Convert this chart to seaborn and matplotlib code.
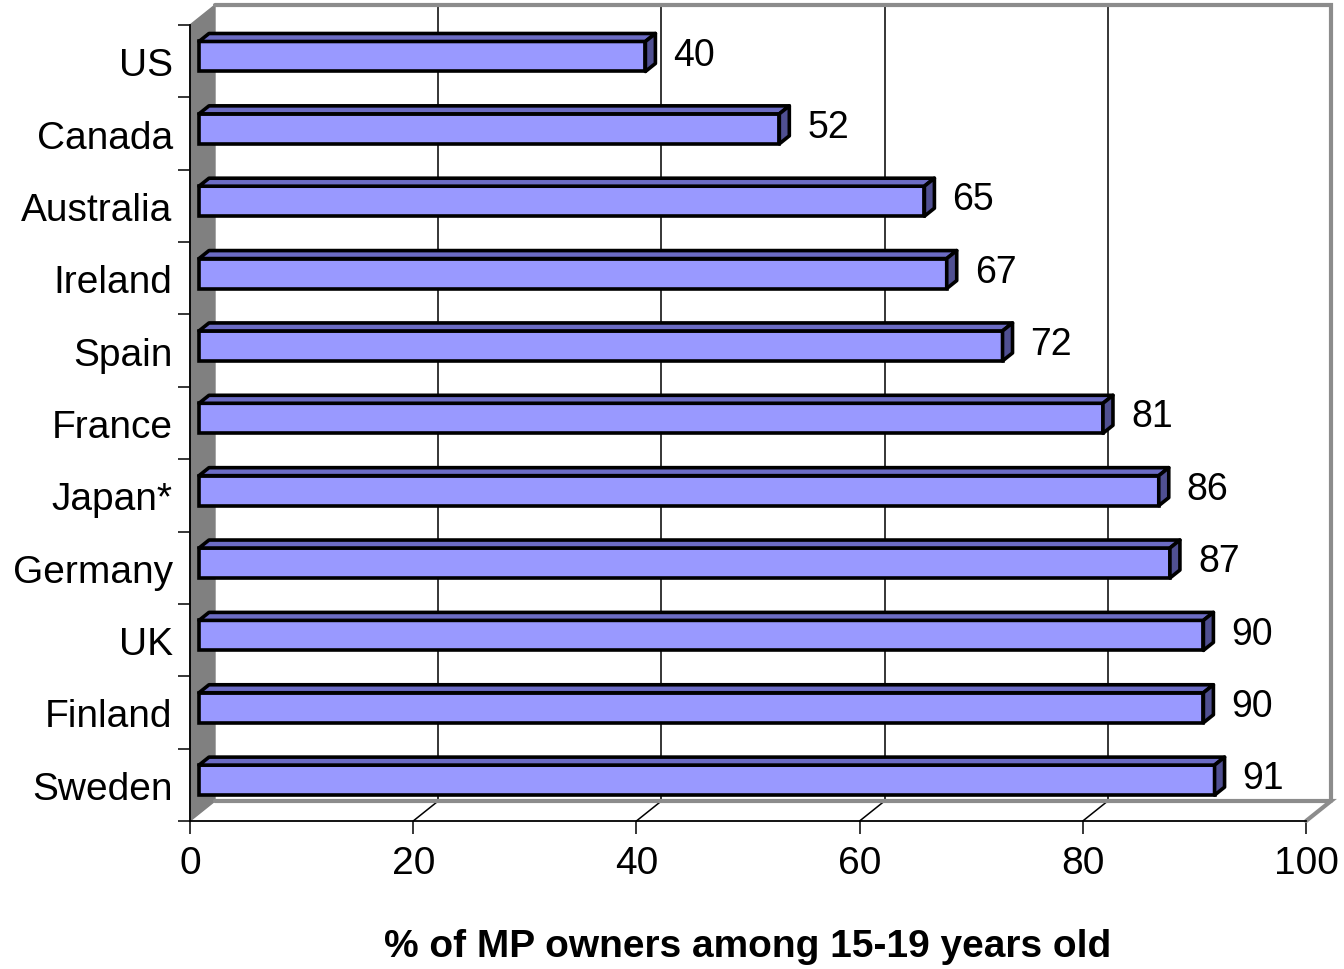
import matplotlib
matplotlib.use("Agg")
import matplotlib.pyplot as plt
import matplotlib.transforms as mtransforms
from matplotlib.patches import Polygon, Rectangle
from matplotlib.ticker import FixedLocator
import numpy as np
import pandas as pd
import seaborn as sns

# Share of mobile-phone owners among 15-19 year olds, by country
countries = ["US", "Canada", "Australia", "Ireland", "Spain", "France",
             "Japan*", "Germany", "UK", "Finland", "Sweden"]
owners_pct = [40, 52, 65, 67, 72, 81, 86, 87, 90, 90, 91]
x_ticks = [0, 20, 40, 60, 80, 100]
x_title = "% of MP owners among 15-19 years old"

sns.set_theme(style="white")
plt.rcParams["font.family"] = ["Liberation Sans", "DejaVu Sans"]

W, H = 1344, 970
fig = plt.figure(figsize=(W / 100, H / 100), dpi=100)
# front plane of the pseudo-3D box, in pixels
left_px, right_px, top_px, bottom_px = 190, 1306, 26, 822
ax = fig.add_axes([left_px / W, 1 - bottom_px / H,
                   (right_px - left_px) / W, (bottom_px - top_px) / H])

n = len(countries)
xmax = 100
sx = (right_px - left_px) / xmax          # px per percent
sy = (bottom_px - top_px) / n             # px per category


def px(dx, dy_up):
    """Pixel offset (right, up) -> data offset on this inverted-y axes."""
    return dx / sx, -dy_up / sy


df = pd.DataFrame({"country": countries, "pct": owners_pct})
bar_h = 30 / sy
edge_lw = 2.6
sns.barplot(data=df, x="pct", y="country", orient="h", width=bar_h,
            color="#9999FF", saturation=1, edgecolor="black", linewidth=edge_lw,
            ax=ax, zorder=4)
ax.set_xlim(0, xmax)
ax.set_ylim(n - 0.5, -0.5)

# depth of the box and placement of the bars inside it
Dx, Dy = px(25, 20)
fx, fy = px(9, 4.7)
bx, by = px(10, 8)

wall_grey = "#808080"
edge_grey = "#8C8C8C"

# left side wall
ax.add_patch(Polygon([(0, -0.5), (Dx, -0.5 + Dy), (Dx, n - 0.5 + Dy), (0, n - 0.5)],
                     closed=True, facecolor=wall_grey, edgecolor=wall_grey,
                     lw=1, zorder=1, clip_on=False))
# back wall gridlines and floor lines
for t in x_ticks[1:-1]:
    ax.plot([t + Dx, t + Dx], [-0.5 + Dy, n - 0.5 + Dy], color="black",
            lw=1.1, zorder=1, clip_on=False)
    ax.plot([t, t + Dx], [n - 0.5, n - 0.5 + Dy], color="black",
            lw=1.1, zorder=1, clip_on=False)
# back wall and floor outline
ax.plot([Dx, xmax + Dx, xmax + Dx], [-0.5 + Dy, -0.5 + Dy, n - 0.5 + Dy],
        color=edge_grey, lw=3, zorder=1, clip_on=False, solid_joinstyle="miter")
ax.plot([Dx, xmax + Dx, xmax], [n - 0.5 + Dy, n - 0.5 + Dy, n - 0.5],
        color=edge_grey, lw=3, zorder=1, clip_on=False, solid_joinstyle="miter")

# shift the bar fronts into the box and add top / side faces
for p in list(ax.patches):
    if not isinstance(p, Rectangle):
        continue
    p.set_x(p.get_x() + fx)
    p.set_y(p.get_y() + fy)
    x0 = p.get_x()
    x1 = x0 + p.get_width()
    yt = p.get_y()
    yb = yt + p.get_height()
    ax.add_patch(Polygon([(x0, yt), (x0 + bx, yt + by), (x1 + bx, yt + by), (x1, yt)],
                         closed=True, facecolor="#6C6CC4", edgecolor="black",
                         lw=edge_lw, zorder=4, joinstyle="round"))
    ax.add_patch(Polygon([(x1, yt), (x1 + bx, yt + by), (x1 + bx, yb + by), (x1, yb)],
                         closed=True, facecolor="#505092", edgecolor="black",
                         lw=edge_lw, zorder=4, joinstyle="round"))

# value labels to the right of each bar
lab_tr = mtransforms.offset_copy(ax.transData, fig=fig, x=0, y=-3.5, units="dots")
for i, v in enumerate(owners_pct):
    xl = v + fx + bx + 18 / sx
    ax.text(xl, i, f"{v}", transform=lab_tr, fontsize=27, ha="left",
            va="baseline", color="black", zorder=5)

# axes lines and ticks
for s in ["top", "right"]:
    ax.spines[s].set_visible(False)
for s in ["left", "bottom"]:
    ax.spines[s].set_color("black")
    ax.spines[s].set_linewidth(1.3)
    ax.spines[s].set_zorder(3)

ax.set_xticks(x_ticks)
ax.set_xticklabels([str(t) for t in x_ticks])
ax.tick_params(axis="x", bottom=True, length=9.4, width=1.1, color="black",
               pad=8, labelsize=28, labelcolor="black")
ax.set_yticks(range(n))
ax.set_yticklabels(countries)
ax.yaxis.set_minor_locator(FixedLocator(np.arange(-0.5, n, 1.0)))
ax.tick_params(axis="y", which="major", left=False, length=0, pad=12.5,
               labelsize=28, labelcolor="black")
ax.tick_params(axis="y", which="minor", left=True, length=8.6, width=1.1,
               color="black")
ax.set_xlabel("")
ax.set_ylabel("")
ax.grid(False)
ax.set_facecolor("none")
ax.patch.set_alpha(0)

fig.text((left_px + right_px) / 2 / W, 1 - 957 / H, x_title, ha="center",
         va="baseline", fontsize=28, fontweight="bold", color="black")

fig.savefig("out.png", dpi=100, facecolor="white")
